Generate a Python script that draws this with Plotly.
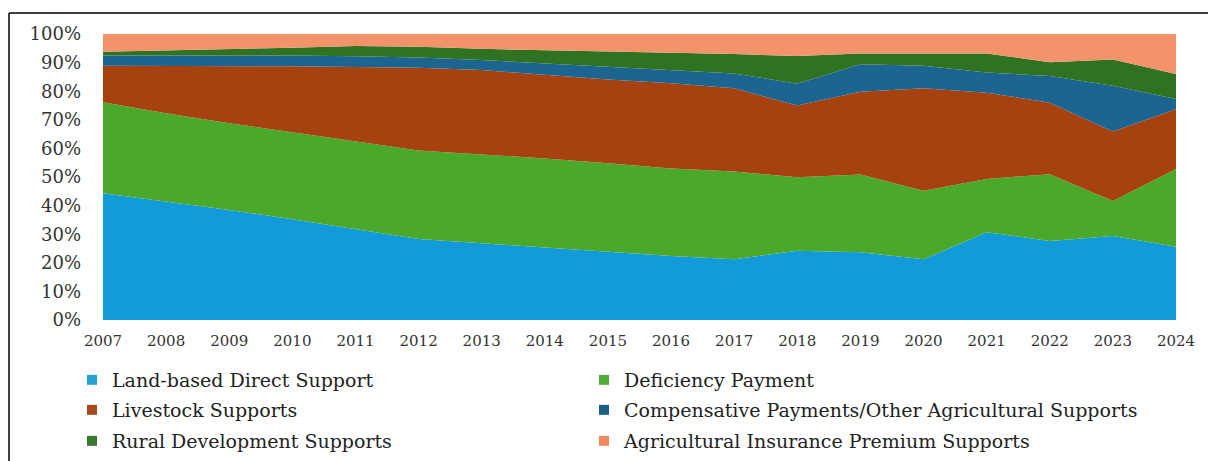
import plotly.graph_objects as go

years = list(range(2007, 2025))

land_based = [44.3, 41.4, 38.5, 35.2, 31.7, 28.3, 26.8, 25.3, 23.7, 22.4, 21.2, 24.2, 23.7, 21.2, 30.7, 27.6, 29.4, 25.6]
deficiency = [31.8, 30.9, 30.3, 30.4, 30.9, 31.0, 31.1, 31.2, 31.1, 30.6, 30.7, 25.7, 27.2, 24.0, 18.6, 23.4, 12.2, 27.2]
livestock = [12.8, 16.6, 20.0, 23.1, 25.9, 28.9, 29.5, 29.2, 29.3, 29.8, 29.1, 25.1, 28.9, 35.8, 30.2, 25.0, 24.3, 20.9]
compensative = [3.6, 3.6, 3.7, 3.8, 3.7, 3.6, 3.5, 4.0, 4.5, 4.6, 5.2, 7.6, 9.6, 7.9, 7.0, 9.3, 16.0, 3.6]
rural = [1.3, 1.7, 2.1, 2.7, 3.6, 3.7, 3.9, 4.7, 5.2, 6.1, 6.8, 9.7, 3.8, 4.3, 6.7, 4.8, 9.2, 8.7]
insurance = [6.2, 5.8, 5.4, 4.8, 4.2, 4.5, 5.2, 5.6, 6.2, 6.5, 7.0, 7.7, 6.8, 6.8, 6.8, 9.9, 8.9, 14.0]

series_names = [
    "Land-based Direct Support",
    "Deficiency Payment",
    "Livestock Supports",
    "Compensative Payments/Other Agricultural Supports",
    "Rural Development Supports",
    "Agricultural Insurance Premium Supports",
]
series_values = [land_based, deficiency, livestock, compensative, rural, insurance]
fill_colors = ["#129bd8", "#4aa92b", "#a6420f", "#1b6590", "#2e7222", "#f3936a"]
legend_colors = ["#2aa0d8", "#4fae38", "#a44a1e", "#1d5f86", "#3a7a30", "#ef8a5f"]

fig = go.Figure()
for name, vals, col in zip(series_names, series_values, fill_colors):
    fig.add_trace(go.Scatter(
        x=years, y=vals, name=name, mode="lines",
        stackgroup="one", groupnorm="percent",
        line=dict(width=0, color=col), fillcolor=col,
        showlegend=False, hoverinfo="x+y+name",
    ))

legend_ids = ["legend", "legend2", "legend3", "legend4", "legend5", "legend6"]
for name, col, lg in zip(series_names, legend_colors, legend_ids):
    fig.add_trace(go.Scatter(
        x=[None], y=[None], name=name, mode="markers",
        marker=dict(symbol="square", size=10, color=col),
        legend=lg, showlegend=True,
    ))

# page offset (default body margin of the html page)
OFF = 8
FIG_W, FIG_H = 1216 - OFF, 461 - OFF
W0, W1 = 103 - OFF, 1176 - OFF   # plot area in figure px
H0, H1 = 34 - OFF, 320 - OFF

def px(xp):
    return (xp - OFF - W0) / (W1 - W0)

def py(yp):
    return (H1 - (yp - OFF)) / (H1 - H0)

legend_font = dict(family="DejaVu Serif", size=19, color="#222222")
common = dict(orientation="h", xanchor="left", yanchor="middle",
              font=legend_font, bgcolor="rgba(0,0,0,0)",
              itemclick=False, itemdoubleclick=False)
col_x = [72, 584]
row_y = [380, 410, 441]
legend_layout = {}
for i, lg in enumerate(legend_ids):
    legend_layout[lg] = dict(x=px(col_x[i % 2]), y=py(row_y[i // 2]), **common)

border = dict(color="black", width=1.5)
fig.update_layout(
    width=FIG_W, height=FIG_H,
    margin=dict(l=W0, r=FIG_W - W1, t=H0, b=FIG_H - H1, autoexpand=False),
    paper_bgcolor="white", plot_bgcolor="white",
    xaxis=dict(range=[2007, 2024], tickmode="array", tickvals=years,
               ticktext=[str(y) for y in years], showgrid=False, zeroline=False,
               showline=False, ticks="", ticklabelstandoff=10,
               tickfont=dict(family="DejaVu Serif", size=15, color="#333333")),
    yaxis=dict(range=[0, 100], tickmode="linear", dtick=10, ticksuffix="%",
               showgrid=False, zeroline=False, showline=False, ticks="",
               ticklabelstandoff=21,
               tickfont=dict(family="DejaVu Serif", size=18, color="#333333")),
    shapes=[
        dict(type="line", xref="paper", yref="paper",
             x0=px(9), x1=px(1216), y0=py(13), y1=py(13), line=border, layer="above"),
        dict(type="line", xref="paper", yref="paper",
             x0=px(9), x1=px(9), y0=py(13), y1=py(461), line=border, layer="above"),
    ],
    **legend_layout,
)

fig.write_html("out.html")
